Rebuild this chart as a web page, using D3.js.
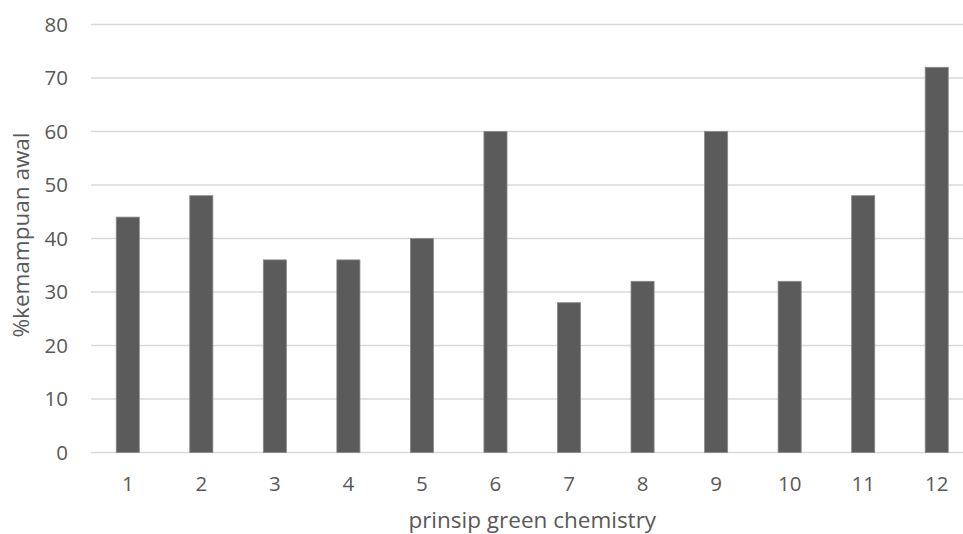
<!DOCTYPE html>
<html>
<head>
<meta charset="utf-8">
<script src="https://cdn.jsdelivr.net/npm/d3@7"></script>
<style>
  body { margin: 0; background: #fff; overflow: hidden; }
  text { font-family: "Open Sans", sans-serif; fill: #595959; }
</style>
</head>
<body>
<div id="chart"></div>
<script>
const categories = ['1', '2', '3', '4', '5', '6', '7', '8', '9', '10', '11', '12'];
const values = [44, 48, 36, 36, 40, 60, 28, 32, 60, 32, 48, 72];
const yTicks = [0, 10, 20, 30, 40, 50, 60, 70, 80];

const WIDTH = 963;
const HEIGHT = 534;
const PLOT = { LEFT: 91, RIGHT: 973.5, TOP: 24.5, BOTTOM: 452.5 };

let svg = d3.select('#chart')
    .append('svg')
    .attr('width', WIDTH)
    .attr('height', HEIGHT);

let x = d3.scaleBand()
    .domain(categories)
    .range([PLOT.LEFT, PLOT.RIGHT])
    .paddingInner(0.686)
    .paddingOuter(0.343);

let y = d3.scaleLinear().domain([0, 80]).range([PLOT.BOTTOM, PLOT.TOP]);

// gridlines
svg.append('g')
    .selectAll('line')
    .data(yTicks)
    .enter()
    .append('line')
    .attr('x1', PLOT.LEFT)
    .attr('x2', PLOT.RIGHT)
    .attr('y1', d => y(d))
    .attr('y2', d => y(d))
    .style('stroke', '#d9d9d9')
    .style('stroke-width', 1.5);

// y axis labels
let yAxis = d3.axisLeft(y).tickValues(yTicks).tickSize(0).tickPadding(0);
svg.append('g')
    .attr('transform', 'translate(68,0)')
    .call(yAxis)
    .call(g => g.select('.domain').remove())
    .selectAll('text')
    .style('font-size', '20.5px')
    .attr('fill', '#595959');

// bars
svg.append('g')
    .selectAll('rect')
    .data(values)
    .enter()
    .append('rect')
    .attr('x', (d, i) => x(categories[i]))
    .attr('y', d => y(d))
    .attr('width', x.bandwidth())
    .attr('height', d => y(0) - y(d))
    .style('fill', '#5b5b5b')
    .style('stroke', '#8a8a8a')
    .style('stroke-width', 0.8);

// x axis labels
let xAxis = d3.axisBottom(x).tickSize(0).tickPadding(0);
svg.append('g')
    .attr('transform', 'translate(0,' + 476.5 + ')')
    .call(xAxis)
    .call(g => g.select('.domain').remove())
    .selectAll('text')
    .style('font-size', '20.5px')
    .attr('fill', '#595959');

// axis titles
svg.append('text')
    .attr('x', (PLOT.LEFT + PLOT.RIGHT) / 2)
    .attr('y', 528)
    .style('text-anchor', 'middle')
    .style('font-size', '22.5px')
    .text('prinsip green chemistry');

svg.append('text')
    .attr('transform', 'rotate(-90)')
    .attr('x', -235)
    .attr('y', 29)
    .style('text-anchor', 'middle')
    .style('font-size', '22.5px')
    .text('%kemampuan awal');
</script>
</body>
</html>
